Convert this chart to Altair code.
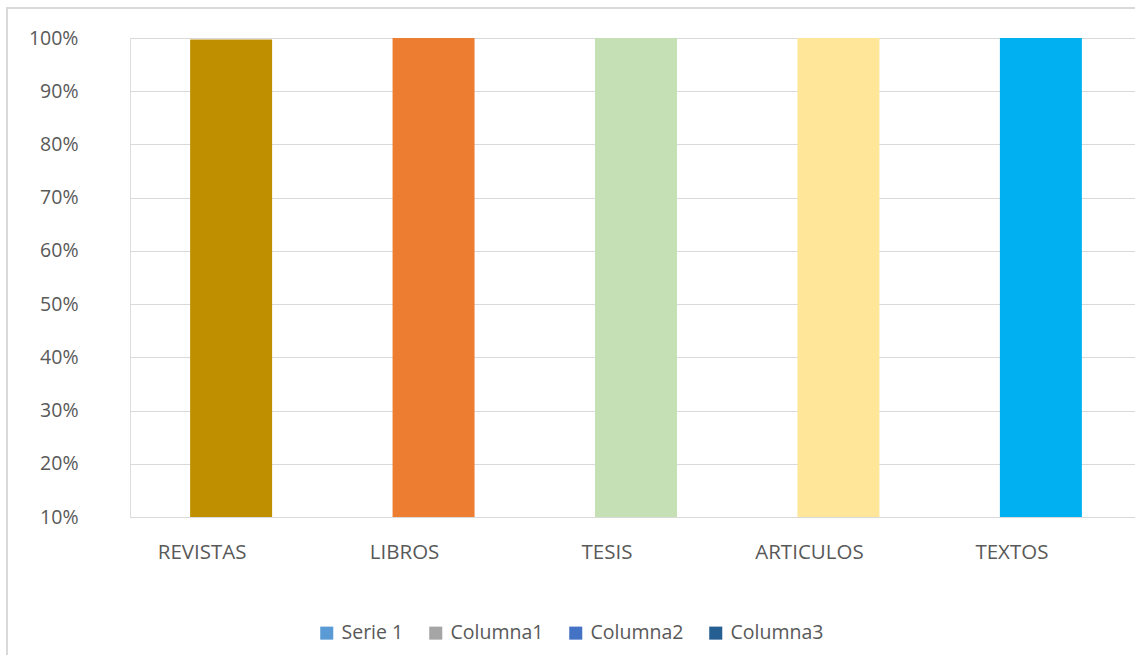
import altair as alt
import pandas as pd

# Categories and their values (share of sources)
categories = ["REVISTAS", "LIBROS", "TESIS", "ARTICULOS", "TEXTOS"]
values = [0.997, 1.0, 1.0, 1.0, 1.0]
bar_colors = ["#BF8F00", "#ED7D31", "#C5E0B4", "#FFE699", "#00B0F0"]

# Legend series
series_names = ["Serie 1", "Columna1", "Columna2", "Columna3"]
series_colors = ["#5B9BD5", "#A5A5A5", "#4472C4", "#255E91"]

y_ticks = [0.1, 0.2, 0.3, 0.4, 0.5, 0.6, 0.7, 0.8, 0.9, 1.0]

FONT = "Open Sans"
TEXT = "#595959"
GRID = "#D9D9D9"
W, H = 1005, 479
X_RANGE = 1012  # category band extends slightly past the visible grid

bars_df = pd.DataFrame({"cat": categories, "val": values, "color": bar_colors})
legend_df = pd.DataFrame({"serie": series_names, "val": [0.5] * len(series_names)})

x_scale = alt.Scale(paddingInner=0.595, paddingOuter=0.297, range=[0, X_RANGE])
x_enc = alt.X(
    "cat:N",
    sort=categories,
    scale=x_scale,
    axis=alt.Axis(title=None, labels=False, ticks=False, domainColor=GRID),
)
y_scale = alt.Scale(domain=[0.1, 1.0], nice=False, zero=False)

bars = alt.Chart(bars_df).mark_bar(clip=True).encode(
    x=x_enc,
    y=alt.Y(
        "val:Q",
        scale=y_scale,
        axis=alt.Axis(
            title=None, values=y_ticks, format=".0%", ticks=False, domain=False,
            gridColor=GRID, gridWidth=1,
            labelFont=FONT, labelFontSize=19.5, labelColor=TEXT, labelPadding=52,
        ),
    ),
    y2=alt.datum(0.1),
    color=alt.Color("color:N", scale=None),
)

# Category labels under the bars, set a little left of each bar's centre
cat_labels = alt.Chart(bars_df).mark_text(
    font=FONT, fontSize=20.5, color=TEXT, dx=-29, baseline="middle", align="center"
).encode(
    x=alt.X("cat:N", sort=categories, scale=x_scale),
    y=alt.value(H + 36),
    text="cat:N",
)

legend_layer = alt.Chart(legend_df).mark_square(opacity=0).encode(
    x=alt.value(0),
    y=alt.value(0),
    fill=alt.Fill(
        "serie:N",
        sort=series_names,
        scale=alt.Scale(domain=series_names, range=series_colors),
        legend=alt.Legend(
            title=None, orient="none", direction="horizontal",
            legendX=187, legendY=585,
            symbolType="square", symbolSize=170, symbolOpacity=1,
            symbolStrokeWidth=0,
            labelFont=FONT, labelFontSize=19.5, labelColor=TEXT,
            columnPadding=22, labelOffset=5,
        ),
    ),
)

# Chart frame: top and left edges (the others fall outside the canvas)
frame_df = pd.DataFrame({"k": [0]})
frame_top = alt.Chart(frame_df).mark_rule(stroke=GRID, strokeWidth=2).encode(
    x=alt.value(-123), x2=alt.value(W), y=alt.value(-30),
)
frame_left = alt.Chart(frame_df).mark_rule(stroke=GRID, strokeWidth=2).encode(
    x=alt.value(-123), y=alt.value(-31), y2=alt.value(H + 200),
)

chart = alt.layer(frame_top, frame_left, bars, cat_labels, legend_layer).properties(
    width=W, height=H,
    autosize=alt.AutoSizeParams(type="none"),
    padding={"left": 130, "top": 38, "right": 0, "bottom": 138},
).configure_view(stroke=None).configure(background="white")

chart.save("out.html", embed_options={"renderer": "svg", "actions": False})
